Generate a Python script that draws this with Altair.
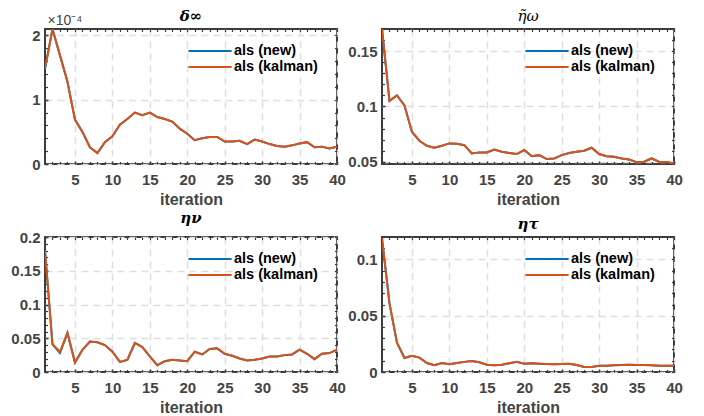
import altair as alt
import pandas as pd

# ---------------- data ----------------
iterations = list(range(1, 41))
series_names = ["als (new)", "als (kalman)"]
series_colors = ["#0072BD", "#D95319"]

# panel 1: delta_inf, in units of 1e-4
delta_inf_kalman = [1.48, 2.10, 1.69, 1.28, 0.69, 0.50, 0.26, 0.17, 0.34, 0.43,
                    0.61, 0.70, 0.80, 0.76, 0.80, 0.73, 0.70, 0.66, 0.55, 0.47,
                    0.37, 0.40, 0.42, 0.42, 0.35, 0.35, 0.36, 0.31, 0.38, 0.35,
                    0.31, 0.28, 0.27, 0.29, 0.32, 0.34, 0.26, 0.27, 0.24, 0.27]
delta_inf_new = [1.48, 2.10, 1.69, 1.28, 0.69, 0.50, 0.26, 0.17, 0.34, 0.43,
                 0.61, 0.70, 0.80, 0.76, 0.80, 0.73, 0.70, 0.66, 0.55, 0.47,
                 0.37, 0.40, 0.42, 0.42, 0.35, 0.35, 0.36, 0.31, 0.38, 0.35,
                 0.31, 0.28, 0.27, 0.29, 0.32, 0.34, 0.26, 0.27, 0.24, 0.27]

# panel 2: eta_omega (tilde)
eta_omega_kalman = [0.170, 0.105, 0.110, 0.101, 0.077, 0.069, 0.0645, 0.0627, 0.0645, 0.0666,
                    0.0663, 0.065, 0.0576, 0.0585, 0.0585, 0.061, 0.059, 0.058, 0.057, 0.0606,
                    0.055, 0.056, 0.0525, 0.053, 0.056, 0.058, 0.059, 0.060, 0.0627, 0.057,
                    0.055, 0.0546, 0.053, 0.052, 0.0496, 0.050, 0.053, 0.050, 0.0498, 0.0485]
eta_omega_new = [0.170, 0.105, 0.110, 0.101, 0.077, 0.069, 0.0645, 0.0627, 0.0645, 0.0666,
                 0.0663, 0.065, 0.0576, 0.0585, 0.0585, 0.061, 0.059, 0.058, 0.057, 0.0606,
                 0.055, 0.056, 0.0525, 0.053, 0.056, 0.058, 0.059, 0.060, 0.0627, 0.057,
                 0.055, 0.0546, 0.053, 0.052, 0.0496, 0.050, 0.053, 0.050, 0.0498, 0.0485]

# panel 3: eta_nu
eta_nu_kalman = [0.180, 0.041, 0.030, 0.058, 0.014, 0.033, 0.045, 0.044, 0.040, 0.030,
                 0.015, 0.018, 0.043, 0.037, 0.023, 0.010, 0.016, 0.018, 0.017, 0.016,
                 0.030, 0.026, 0.034, 0.035, 0.027, 0.024, 0.020, 0.017, 0.018, 0.020,
                 0.023, 0.023, 0.025, 0.026, 0.033, 0.027, 0.019, 0.027, 0.028, 0.033]
eta_nu_new = [0.180, 0.041, 0.028, 0.058, 0.014, 0.033, 0.045, 0.044, 0.040, 0.030,
              0.015, 0.018, 0.043, 0.037, 0.023, 0.010, 0.016, 0.018, 0.017, 0.016,
              0.030, 0.026, 0.034, 0.035, 0.027, 0.024, 0.020, 0.017, 0.018, 0.020,
              0.023, 0.023, 0.025, 0.026, 0.033, 0.027, 0.019, 0.027, 0.028, 0.033]

# panel 4: eta_tau
eta_tau_kalman = [0.119, 0.061, 0.026, 0.0125, 0.0145, 0.0128, 0.008, 0.006, 0.008, 0.007,
                  0.008, 0.009, 0.0098, 0.0086, 0.0065, 0.006, 0.0065, 0.0077, 0.009, 0.0074,
                  0.0077, 0.0074, 0.0071, 0.0068, 0.0071, 0.0074, 0.0062, 0.0045, 0.0045, 0.0056,
                  0.0056, 0.0059, 0.0062, 0.0065, 0.0062, 0.0062, 0.0059, 0.0056, 0.0056, 0.0056]
eta_tau_new = [0.119, 0.061, 0.026, 0.0125, 0.0145, 0.0128, 0.008, 0.006, 0.008, 0.007,
               0.008, 0.009, 0.0098, 0.0086, 0.0065, 0.006, 0.0065, 0.0077, 0.009, 0.0074,
               0.0077, 0.0074, 0.0071, 0.0068, 0.0071, 0.0074, 0.0062, 0.0045, 0.0045, 0.0056,
               0.0056, 0.0059, 0.0062, 0.0065, 0.0062, 0.0062, 0.0059, 0.0056, 0.0056, 0.0056]

x_major = [5, 10, 15, 20, 25, 30, 35, 40]
x_minor = iterations

# ---------------- style ----------------
FONT = "Liberation Sans"
AXC = "#3c3c3c"
LABC = "#444444"
GRIDC = "#dedede"


def make_panel(title, title_weight, new, kal, ydom, ymajor, yminor,
               ytitle=None, title_offset=4):
    df = pd.DataFrame({
        "iteration": iterations * 2,
        "value": new + kal,
        "series": [series_names[0]] * len(new) + [series_names[1]] * len(kal),
    })
    xs = alt.Scale(domain=[1, 40], nice=False, zero=False)
    ys = alt.Scale(domain=ydom, nice=False, zero=False)
    color = alt.Color(
        "series:N",
        scale=alt.Scale(domain=series_names, range=series_colors),
        legend=alt.Legend(
            orient="none", legendX=156, legendY=13, title=None,
            symbolType="M-2.7,0L2.7,0", symbolSize=256, symbolStrokeWidth=2,
            symbolOffset=0, labelOffset=15, padding=0, rowPadding=0,
            labelFont=FONT, labelFontSize=14.5, labelFontWeight="bold",
            labelColor="black",
        ),
    )
    main_x = alt.Axis(
        orient="bottom", values=x_major, grid=True, gridColor=GRIDC,
        gridDash=[7, 5], gridWidth=1.5, domain=False, ticks=True, tickSize=3,
        tickWidth=1.5, tickColor=AXC, offset=-3, labelPadding=8,
        labelFont=FONT, labelFontSize=15, labelFontWeight="bold",
        labelColor=LABC, labelFlush=False, labelOverlap=False,
        title="iteration", titleFont=FONT, titleFontSize=16,
        titleFontWeight="bold", titleColor=LABC, titlePadding=4,
    )
    y_kwargs = dict(
        orient="left", values=ymajor, grid=True, gridColor=GRIDC,
        gridDash=[7, 5], gridWidth=1.5, domain=False, ticks=True, tickSize=3,
        tickWidth=1.5, tickColor=AXC, offset=-3, labelPadding=5,
        labelFont=FONT, labelFontSize=15, labelFontWeight="bold",
        labelColor=LABC, labelFlush=False, labelOverlap=False, format="~g",
    )
    if ytitle:
        y_kwargs.update(
            title=ytitle, titleAngle=0, titleX=-1, titleY=-5,
            titleAlign="left", titleBaseline="alphabetic", titleFont=FONT,
            titleFontSize=14, titleFontWeight="normal", titleColor=LABC,
        )
    else:
        y_kwargs.update(title=None)
    main_y = alt.Axis(**y_kwargs)

    base = alt.Chart(df)
    blue = base.transform_filter(
        alt.datum.series == series_names[0]
    ).mark_line(strokeWidth=2, clip=True).encode(
        x=alt.X("iteration:Q", scale=xs, axis=main_x),
        y=alt.Y("value:Q", scale=ys, axis=main_y),
        color=color,
    )
    orange = base.transform_filter(
        alt.datum.series == series_names[1]
    ).mark_line(strokeWidth=2, clip=True).encode(
        x=alt.X("iteration:Q", scale=xs, axis=None),
        y=alt.Y("value:Q", scale=ys, axis=None),
        color=color,
    )
    tick_common = dict(labels=False, domain=False, grid=False, ticks=True,
                       tickSize=2.5, tickWidth=1.2, tickColor=AXC, offset=-2.5,
                       title=None, minExtent=0, maxExtent=0)
    top_right = base.mark_line(opacity=0).encode(
        x=alt.X("iteration:Q", scale=xs,
                axis=alt.Axis(orient="top", values=x_minor, **tick_common)),
        y=alt.Y("value:Q", scale=ys,
                axis=alt.Axis(orient="right", values=yminor, **tick_common)),
        detail="series:N",
    )
    bottom_left = base.mark_line(opacity=0).encode(
        x=alt.X("iteration:Q", scale=xs,
                axis=alt.Axis(orient="bottom", values=x_minor, **tick_common)),
        y=alt.Y("value:Q", scale=ys,
                axis=alt.Axis(orient="left", values=yminor, **tick_common)),
        detail="series:N",
    )
    return alt.layer(blue, orange, top_right, bottom_left).resolve_axis(
        x="independent", y="independent"
    ).properties(
        width=292, height=135,
        title=alt.TitleParams(
            text=title, font="DejaVu Serif", fontStyle="italic",
            fontWeight=title_weight, fontSize=15, color="black",
            offset=title_offset, anchor="middle",
        ),
    )


p1 = make_panel("δ∞", "bold", delta_inf_new, delta_inf_kalman, [0, 2.1],
                [0, 1, 2], [round(0.2 * i, 1) for i in range(0, 11)],
                ytitle="×10⁻⁴", title_offset=-11)
p2 = make_panel("η̃ω", "normal", eta_omega_new, eta_omega_kalman,
                [0.048, 0.17], [0.05, 0.1, 0.15],
                [round(0.05 + 0.01 * i, 2) for i in range(0, 13)])
p3 = make_panel("ην", "bold", eta_nu_new, eta_nu_kalman, [0, 0.2],
                [0, 0.05, 0.1, 0.15, 0.2],
                [round(0.01 * i, 2) for i in range(0, 21)])
p4 = make_panel("ητ", "bold", eta_tau_new, eta_tau_kalman, [0, 0.12],
                [0, 0.05, 0.1],
                [round(0.01 * i, 2) for i in range(0, 13)])

chart = alt.concat(
    p1, p2, p3, p4, columns=2, spacing={"row": 2, "column": -1}
).resolve_scale(color="independent").resolve_legend(
    color="independent"
).properties(
    padding={"left": 1, "top": 0, "right": 5, "bottom": 0}
).configure_view(
    stroke=AXC, strokeWidth=2
)

chart.save("out.html", embed_options={"renderer": "svg", "actions": False})
